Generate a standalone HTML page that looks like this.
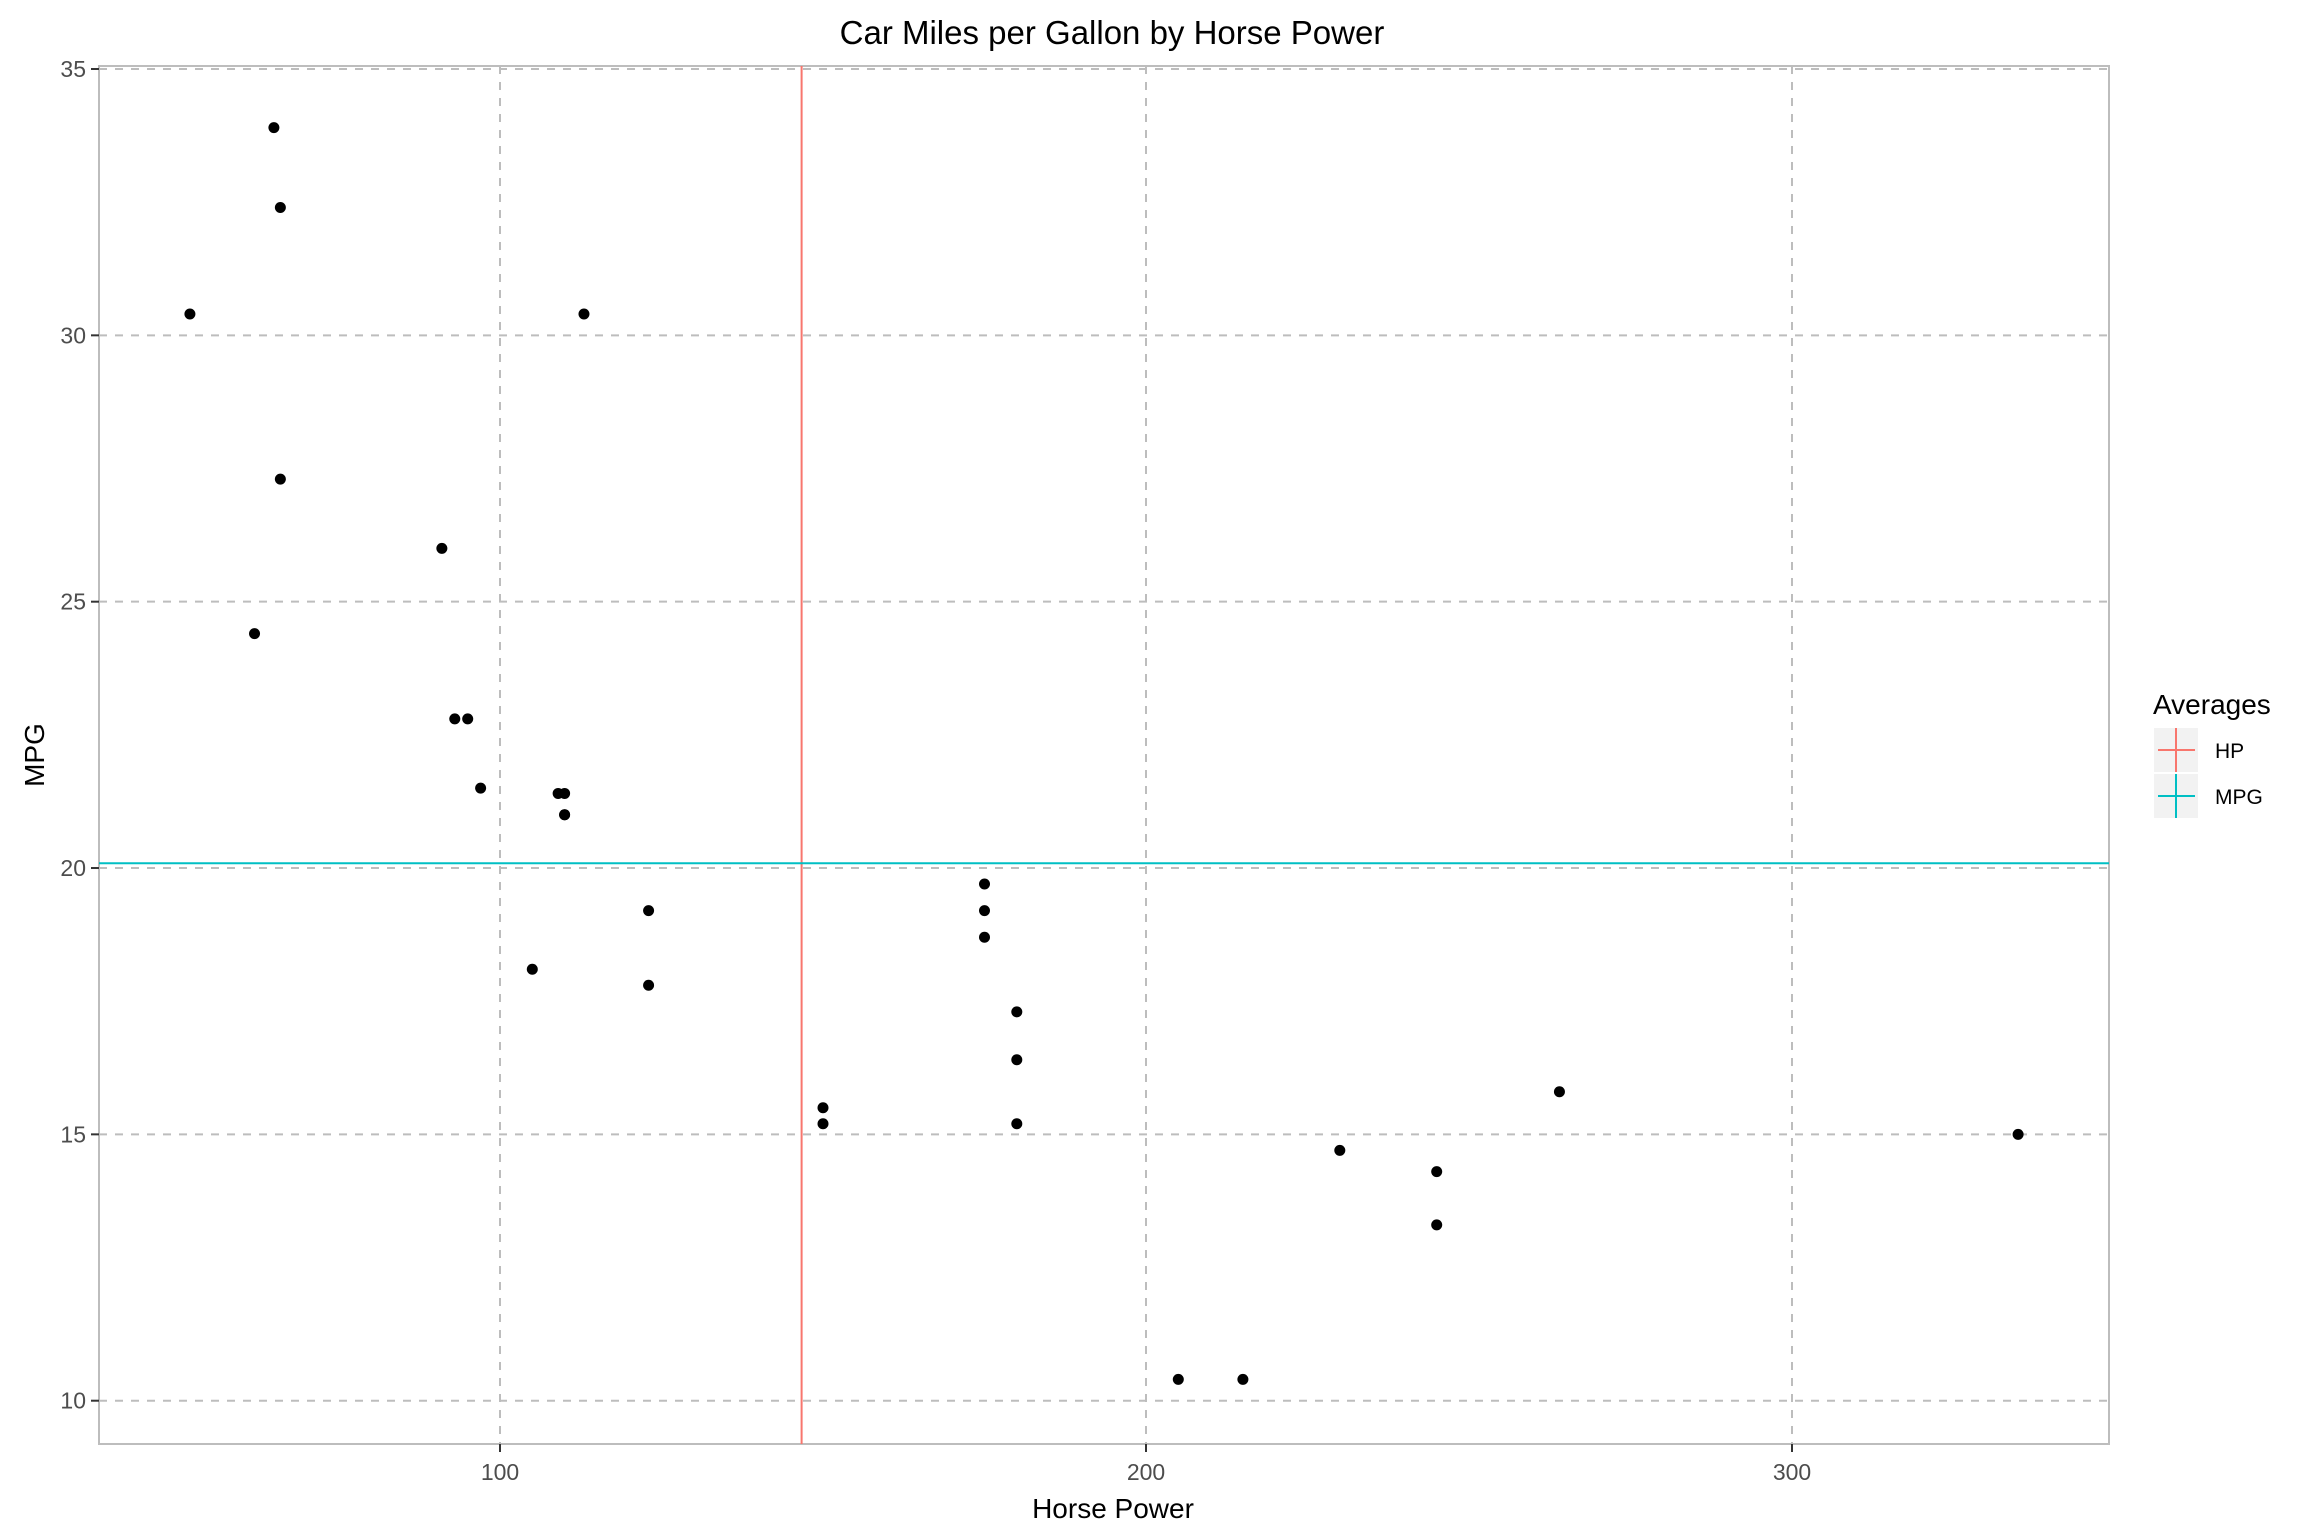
<!DOCTYPE html>
<html><head><meta charset="utf-8"><style>
body{margin:0;background:#fff;}
svg{display:block;font-family:"Liberation Sans",Arial,sans-serif;}
</style></head><body>
<svg id="chart" width="2304" height="1536" viewBox="0 0 2304 1536">
<text x="1112" y="44" font-size="33" text-anchor="middle" fill="#000">Car Miles per Gallon by Horse Power</text>
<g id="grid"></g>
<rect x="99" y="66" width="2010" height="1378" fill="none" stroke="#bdbdbd" stroke-width="2"/>
<g id="refs"></g>
<g id="points"></g>
<g id="axes"></g>
<text x="1113" y="1518" font-size="28" text-anchor="middle" fill="#000">Horse Power</text>
<text x="0" y="0" font-size="28" text-anchor="middle" fill="#000" transform="translate(44,755) rotate(-90)">MPG</text>
<g>
<text x="2153" y="714" font-size="28" fill="#000">Averages</text>
<g>
<rect x="2154" y="728" width="44" height="44" fill="#f2f2f2"/>
<line x1="2158" y1="750" x2="2195" y2="750" stroke="#F8766D" stroke-width="2"/>
<line x1="2176" y1="728" x2="2176" y2="772" stroke="#F8766D" stroke-width="2"/>
<text x="2215" y="758" font-size="21" fill="#000">HP</text>
</g>
<g>
<rect x="2154" y="774" width="44" height="44" fill="#f2f2f2"/>
<line x1="2158" y1="796" x2="2195" y2="796" stroke="#00BFC4" stroke-width="2"/>
<line x1="2176" y1="774" x2="2176" y2="818" stroke="#00BFC4" stroke-width="2"/>
<text x="2215" y="804" font-size="21" fill="#000">MPG</text>
</g>
</g>
</svg>
<script>
const hp = [110,110,93,110,175,105,245,62,95,123,123,180,180,180,205,215,230,66,52,65,97,150,150,245,175,66,91,113,264,175,335,109];
const mpg = [21,21,22.8,21.4,18.7,18.1,14.3,24.4,22.8,19.2,17.8,16.4,17.3,15.2,10.4,10.4,14.7,32.4,30.4,33.9,21.5,15.5,15.2,13.3,19.2,27.3,26,30.4,15.8,19.7,15,21.4];
const xTicks = [100,200,300];
const yTicks = [10,15,20,25,30,35];
const avgHP = 146.6875;
const avgMPG = 20.09062;

const L=99,R=2109,T=66,B=1444;
const xs = v => 500 + (v-100)*(1792-500)/200;
const ys = v => 1400.7 - (v-10)*(1400.7-69)/25;
const NS='http://www.w3.org/2000/svg';
function mk(tag,attrs,parent){const e=document.createElementNS(NS,tag);for(const k in attrs)e.setAttribute(k,attrs[k]);parent.appendChild(e);return e;}
const grid=document.getElementById('grid'),axes=document.getElementById('axes'),pts=document.getElementById('points'),refs=document.getElementById('refs');
xTicks.forEach(t=>{
  const x=xs(t);
  const g=mk('line',{x1:x,x2:x,y1:T,y2:B,stroke:'#bdbdbd','stroke-width':2,'stroke-dasharray':'8,8'},grid);
  
  
  mk('line',{x1:x,x2:x,y1:B,y2:B+8,stroke:'#333','stroke-width':2},axes);
  const tx=mk('text',{x:x,y:B+36,'font-size':23,'text-anchor':'middle',fill:'#4d4d4d'},axes);
  tx.textContent=t;
  
  
});
yTicks.forEach(t=>{
  const y=ys(t);
  const g=mk('line',{x1:L,x2:R,y1:y,y2:y,stroke:'#bdbdbd','stroke-width':2,'stroke-dasharray':'8,8'},grid);
  
  
  mk('line',{x1:L-8,x2:L,y1:y,y2:y,stroke:'#333','stroke-width':2},axes);
  const tx=mk('text',{x:L-13,y:y+8,'font-size':23,'text-anchor':'end',fill:'#4d4d4d'},axes);
  tx.textContent=t;
  
  
});
const vl=mk('line',{x1:xs(avgHP),x2:xs(avgHP),y1:T,y2:B,stroke:'#F8766D','stroke-width':2},refs);


const hl=mk('line',{x1:L,x2:R,y1:ys(avgMPG),y2:ys(avgMPG),stroke:'#00BFC4','stroke-width':2},refs);


hp.forEach((h,i)=>{
  const c=mk('circle',{cx:xs(h),cy:ys(mpg[i]),r:5.5,fill:'#000'},pts);
  
  
});
</script>
</body></html>
